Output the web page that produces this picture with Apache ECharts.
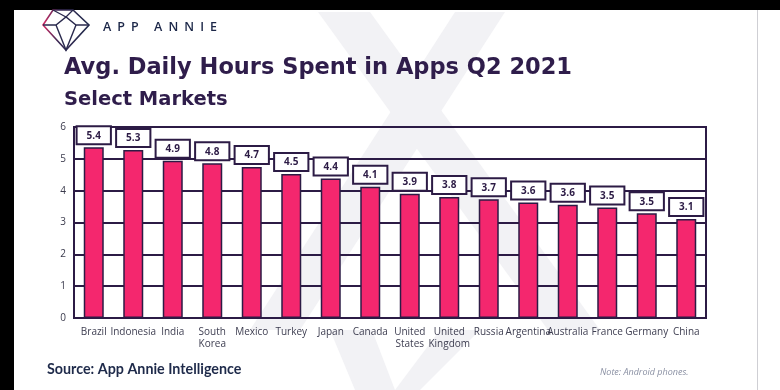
<!DOCTYPE html>
<html>
<head>
<meta charset="utf-8">
<script src="https://cdn.jsdelivr.net/npm/echarts@6/dist/echarts.min.js"></script>
<style>
html,body{margin:0;padding:0;background:#fff;}
#c{width:780px;height:390px;}
</style>
</head>
<body>
<div id="c"></div>
<script>
var categories = ['Brazil','Indonesia','India','South\nKorea','Mexico','Turkey','Japan','Canada','United\nStates','United\nKingdom','Russia','Argentina','Australia','France','Germany','China'];
var hours = [5.36, 5.28, 4.94, 4.86, 4.74, 4.52, 4.38, 4.12, 3.9, 3.8, 3.73, 3.63, 3.56, 3.47, 3.29, 3.11];
var labelTexts = ['5.4','5.3','4.9','4.8','4.7','4.5','4.4','4.1','3.9','3.8','3.7','3.6','3.6','3.5','3.5','3.1'];
var yTicks = [0,1,2,3,4,5,6];

var dark = '#2c1b45';
var pink = '#f4276e';
var chart = echarts.init(document.getElementById('c'), null, {renderer:'canvas'});

// letter-spaced logo text
var logoFont = '600 12.5px "Open Sans", sans-serif';
var mc = document.createElement('canvas').getContext('2d');
mc.font = logoFont;
var logoChars = 'APP ANNIE'.split('');
var totalW = 0;
logoChars.forEach(function(ch){ totalW += mc.measureText(ch).width; });
var gap = (114 - totalW) / (logoChars.length - 1);
var logoLetters = [];
var lx = 103;
logoChars.forEach(function(ch){
  logoLetters.push({type:'text', left:lx, top:21, style:{text:ch, fill:'#1c2748', font:logoFont}});
  lx += mc.measureText(ch).width + gap;
});

var wm = '#f2f2f5';
var graphics = [
  {type:'polygon', z:-10, shape:{points:[[318,12],[370,12],[600,330],[548,330]]}, style:{fill:wm}},
  {type:'polygon', z:-10, shape:{points:[[455,12],[505,12],[300,330],[250,330]]}, style:{fill:wm}},
  {type:'polygon', z:-10, shape:{points:[[330,330],[372,330],[395,390],[355,390]]}, style:{fill:wm}},
  {type:'polygon', z:-10, shape:{points:[[440,330],[480,330],[420,390],[395,390]]}, style:{fill:wm}},
  {type:'rect', shape:{x:0,y:0,width:780,height:10}, style:{fill:'#000'}},
  {type:'rect', shape:{x:0,y:0,width:14,height:390}, style:{fill:'#000'}},
  {type:'line', shape:{x1:757.5,y1:10,x2:757.5,y2:390}, style:{stroke:'#cfcfd4',lineWidth:1}},
  {type:'polygon', shape:{points:[[43,25],[53,10],[73,10],[89,25],[66,50]]},
    style:{fill:'none', lineWidth:1.6, stroke:new echarts.graphic.LinearGradient(0,0,1,0,[{offset:0,color:'#ee2a68'},{offset:0.35,color:'#3a2a55'},{offset:1,color:'#1e2a4a'}])}},
  {type:'polyline', shape:{points:[[43,25],[56,25],[66,17],[76,25],[89,25]]}, style:{stroke:'#2a2a4e',lineWidth:1.4,fill:'none'}},
  {type:'polyline', shape:{points:[[53,10],[66,17],[73,10]]}, style:{stroke:'#2a2a4e',lineWidth:1.4,fill:'none'}},
  {type:'polyline', shape:{points:[[56,25],[66,50],[76,25]]}, style:{stroke:'#2a2a4e',lineWidth:1.4,fill:'none'}},
  {type:'text', left:64, top:57, style:{text:'Avg. Daily Hours Spent in Apps Q2 2021', fill:'#2f1d4b', font:'bold 22.5px "DejaVu Sans", sans-serif'}},
  {type:'text', left:64, top:90, style:{text:'Select Markets', fill:'#2f1d4b', font:'bold 19.5px "DejaVu Sans", sans-serif'}},
  {type:'text', left:47, top:362, style:{text:'Source: App Annie Intelligence', fill:'#1e2a4a', font:'bold 14.3px Lato, sans-serif'}},
  {type:'text', left:600, top:368, style:{text:'Note: Android phones.', fill:'#8a90a3', font:'italic 9px "Open Sans", sans-serif'}}
].concat(logoLetters);

chart.setOption({
  backgroundColor: '#ffffff',
  animation: false,
  graphic: graphics,
  grid: {left:74, right:74, top:127, bottom:72, show:true, borderColor:dark, borderWidth:2, backgroundColor:'transparent'},
  xAxis: {
    type:'category', data:categories,
    axisLine:{show:true, lineStyle:{color:dark, width:2}},
    axisTick:{show:false},
    axisLabel:{color:'#3d3d50', fontSize:10, fontFamily:'"Open Sans", sans-serif', interval:0, margin:8, lineHeight:12}
  },
  yAxis: {
    type:'value', min:0, max:6, interval:1,
    axisLine:{show:true, lineStyle:{color:dark, width:2}},
    axisTick:{show:false},
    splitLine:{show:true, lineStyle:{color:dark, width:2}},
    axisLabel:{color:'#3a3a4c', fontSize:10, fontFamily:'"Open Sans", sans-serif', margin:8,
      formatter:function(v){ return yTicks.indexOf(v)>=0 ? String(v) : ''; }}
  },
  series: [{
    type:'bar', data:hours, barWidth:20,
    itemStyle:{color:pink, borderColor:dark, borderWidth:1.5},
    label:{show:true, position:'top', distance:4,
      formatter:function(p){ return labelTexts[p.dataIndex]; },
      backgroundColor:'#fff', borderColor:dark, borderWidth:2,
      padding:[3,9,2,9], color:dark, fontWeight:'bold', fontSize:10, lineHeight:11,
      fontFamily:'"Open Sans", sans-serif'}
  }]
});
</script>
</body>
</html>
